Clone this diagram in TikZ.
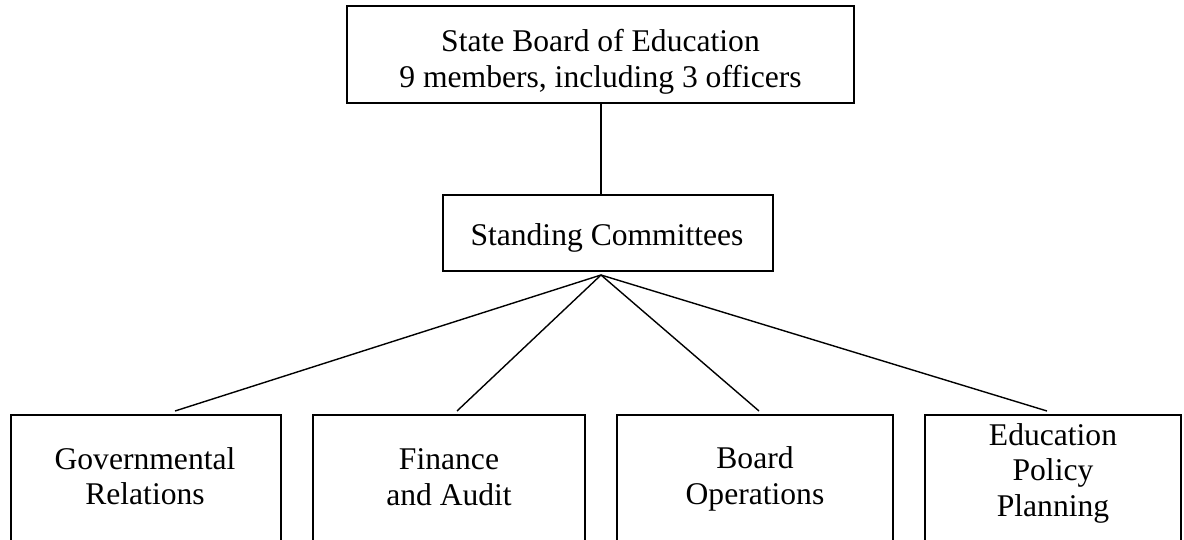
\documentclass[tikz,border=0pt]{standalone}
\usepackage{fontspec}
\setmainfont{Liberation Serif}
\begin{document}
\begin{tikzpicture}[x=1pt,y=-1pt,
  box/.style={draw=black, line width=2pt, rectangle, inner sep=0pt},
  lbl/.style={align=center, inner sep=0pt, font=\fontsize{31.6}{35.5}\selectfont},
  conn/.style={draw=black, line width=1.4pt},
  vconn/.style={draw=black, line width=2pt}]
\useasboundingbox (0,0) rectangle (1184,540);
% top boxes
\node[box, minimum width=507pt, minimum height=97pt] (sbe) at (600.5,54.5) {};
\node[lbl] (sbet) at (600.5,62) {State Board of Education\\9 members, including 3 officers};
\node[box, minimum width=330pt, minimum height=76pt] (sc) at (608,233) {};
\node[lbl] (sct) at (607,238) {Standing Committees};
\draw[vconn] (sbe.south) -- (sbe.south |- sc.north);
\coordinate (apex) at ([xshift=-7pt,yshift=-3pt]sc.south);
% bottom boxes
\node[box, minimum width=270pt, minimum height=200pt, anchor=north] (g1) at (146,414) {};
\node[box, minimum width=272pt, minimum height=200pt, anchor=north] (g2) at (449,414) {};
\node[box, minimum width=276pt, minimum height=200pt, anchor=north] (g3) at (755,414) {};
\node[box, minimum width=256pt, minimum height=200pt, anchor=north] (g4) at (1053,414) {};
\node[lbl] (g1t) at (145,476) {Governmental\\Relations};
\node[lbl] (g2t) at (449,477) {Finance\\and Audit};
\node[lbl] (g3t) at (755,479) {Board\\Operations};
\node[lbl] (g4t) at (1053,473) {Education\\Policy\\Planning};
% connectors
\draw[conn] (apex) -- ([xshift=29pt,yshift=3pt]g1.north);
\draw[conn] (apex) -- ([xshift=8pt,yshift=3pt]g2.north);
\draw[conn] (apex) -- ([xshift=4pt,yshift=3pt]g3.north);
\draw[conn] (apex) -- ([xshift=-6pt,yshift=3pt]g4.north);
\end{tikzpicture}
\end{document}
